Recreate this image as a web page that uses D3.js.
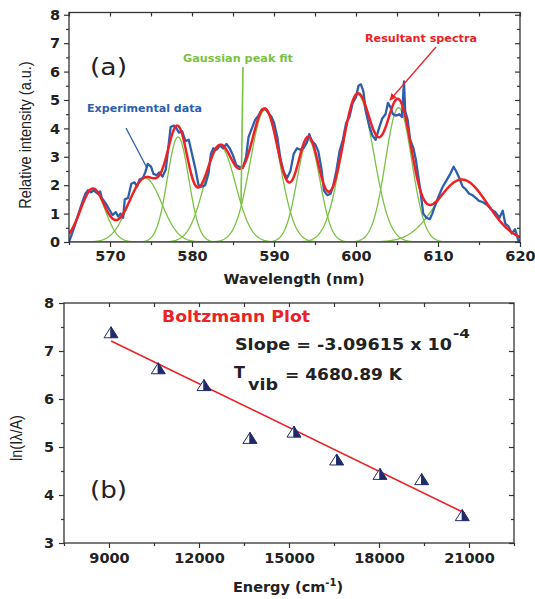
<!DOCTYPE html>
<html>
<head>
<meta charset="utf-8">
<script src="https://cdn.jsdelivr.net/npm/d3@7/dist/d3.min.js"></script>
<style>
  body { margin: 0; background: #fff; }
  svg { display: block; }
  .tick text { font-family: "DejaVu Sans", sans-serif; font-weight: bold; font-size: 14.5px; fill: #222; }
  .tick line { stroke: #333; stroke-width: 1.2; }
  .domain { display: none; }
</style>
</head>
<body>
<svg id="chart" width="535" height="599"></svg>
<script>
// [A] Datos ------------------------------------------------------------------
// (a) espectro experimental
const expNm = [565.0, 565.5, 566.0, 566.5, 567.0, 567.3, 567.7, 568.0, 568.5, 568.8,
  569.0, 569.5, 570.0, 570.3, 570.7, 571.0, 571.3, 571.6, 571.8, 572.2,
  572.6, 573.0, 573.3, 573.6, 574.0, 574.3, 574.6, 575.0, 575.3, 575.7,
  576.0, 576.4, 576.8, 577.1, 577.4, 577.8, 578.1, 578.4, 578.8, 579.2,
  579.6, 580.0, 580.4, 580.8, 581.2, 581.6, 582.0, 582.3, 582.6, 583.0,
  583.4, 583.8, 584.2, 584.6, 585.0, 585.4, 585.8, 586.2, 586.6, 586.9,
  587.3, 587.7, 588.1, 588.5, 588.9, 589.3, 589.7, 590.0, 590.4, 590.8,
  591.2, 591.6, 592.0, 592.4, 592.8, 593.2, 593.6, 594.0, 594.3, 594.6,
  595.0, 595.4, 595.8, 596.1, 596.5, 596.9, 597.2, 597.6, 598.0, 598.4,
  598.8, 599.2, 599.6, 600.0, 600.3, 600.6, 600.9, 601.2, 601.6, 602.0,
  602.4, 602.8, 603.2, 603.6, 603.9, 604.2, 604.5, 604.9, 605.3, 605.6,
  605.85, 606.0, 606.3, 606.6, 607.0, 607.3, 607.6, 607.9, 608.2, 608.6,
  609.0, 609.3, 609.6, 610.0, 610.5, 611.0, 611.5, 611.9, 612.2, 612.6,
  613.0, 613.4, 613.8, 614.2, 614.6, 615.0, 615.5, 616.0, 616.5, 617.0,
  617.5, 617.9, 618.2, 618.6, 619.0, 619.4, 619.8, 620.0];
const expInt = [0.0, 0.4, 0.85, 1.3, 1.7, 1.82, 1.75, 1.82, 1.7, 1.78,
  1.55, 1.35, 1.1, 0.95, 1.05, 0.9, 1.0, 0.85, 1.5, 1.55,
  2.05, 2.1, 1.95, 2.2, 2.25, 2.45, 2.75, 2.65, 2.4, 2.35,
  2.45, 2.3, 2.55, 3.3, 4.05, 4.1, 4.0, 3.85, 3.9, 3.55,
  3.6, 3.1, 2.6, 2.0, 1.95, 2.0, 2.4, 3.1, 3.3, 3.25,
  3.4, 3.3, 3.45, 3.3, 3.05, 2.7, 2.65, 2.6, 3.0, 3.7,
  4.0, 4.3, 4.45, 4.65, 4.7, 4.55, 4.4, 4.2, 3.7, 2.9,
  2.45, 2.25, 2.5, 3.1, 3.3, 3.25, 3.3, 3.5, 3.8, 3.55,
  3.45, 3.2, 2.55, 1.8, 1.65, 1.7, 1.95, 2.5, 3.2, 3.6,
  4.2, 4.4, 4.9, 5.1, 5.5, 5.55, 5.3, 4.6, 4.1, 3.75,
  3.6, 4.0, 4.35, 4.5, 4.9, 4.75, 4.5, 4.45, 4.5, 4.4,
  5.65, 4.6, 4.3, 3.6, 3.3, 2.9, 2.3, 1.7, 1.0, 0.85,
  0.8, 1.0, 1.25, 1.55, 1.9, 2.15, 2.4, 2.65, 2.5, 2.25,
  1.95, 1.85, 1.7, 1.65, 1.55, 1.45, 1.4, 1.3, 1.15, 1.05,
  0.85, 1.1, 0.65, 0.55, 0.3, 0.45, 0.05, 0.05];

// (a) parámetros del ajuste gaussiano (centro, altura, sigma)
const peakCenter = [567.9, 574.3, 578.3, 583.4, 588.9, 594.2, 600.2, 605.2, 612.9];
const peakHeight = [1.87, 2.25, 3.7, 3.38, 4.65, 3.6, 5.2, 4.73, 2.2];
const peakSigma = [1.5, 2.0, 1.3, 1.9, 1.8, 1.4, 1.95, 1.6, 3.15];

const waveTicks = [570, 580, 590, 600, 610, 620];
const waveMinor = [565, 575, 585, 595, 605, 615];
const intensityTicks = [0, 1, 2, 3, 4, 5, 6, 7, 8];
const intensityMinor = [0.5, 1.5, 2.5, 3.5, 4.5, 5.5, 6.5, 7.5];

// (b) gráfico de Boltzmann
const energyVals = [9067, 10643, 12167, 13700, 15167, 16590, 18033, 19423, 20777];
const lnVals = [7.39, 6.64, 6.29, 5.19, 5.32, 4.74, 4.44, 4.33, 3.58];
const fitEnergy = [9070, 20870];
const fitLn = [7.21, 3.62];

const energyTicks = [9000, 12000, 15000, 18000, 21000];
const energyMinor = [7500, 10500, 13500, 16500, 19500, 22500];
const lnTicks = [3, 4, 5, 6, 7, 8];
const lnMinor = [3.5, 4.5, 5.5, 6.5, 7.5];

// [B] Configuración ----------------------------------------------------------
const svg = d3.select("#chart");
const axisColor = "#333";
const blue = "#2d5fae";
const red = "#ec2227";
const green = "#7bc143";
const navy = "#1f2a6c";

// Dibuja marco con ejes (abajo/izq. hacia afuera, arriba/der. hacia adentro)
function drawFrame(x, y, o) {
  const [x0, x1] = x.range();
  const [y0, y1] = y.range();
  const g = svg.append("g");

  g.append("g").attr("transform", `translate(0,${y0})`)
    .call(d3.axisBottom(x).tickValues(o.xMajor).tickSize(5).tickSizeOuter(0)
      .tickPadding(o.xPad).tickFormat(d3.format("d")));
  g.append("g").attr("transform", `translate(0,${y0})`)
    .call(d3.axisBottom(x).tickValues(o.xMinor).tickSize(3).tickSizeOuter(0).tickFormat(""));
  g.append("g").attr("transform", `translate(0,${y1})`)
    .call(d3.axisTop(x).tickValues(o.xTop).tickSize(-4).tickSizeOuter(0).tickFormat(""));

  g.append("g").attr("transform", `translate(${x0},0)`)
    .call(d3.axisLeft(y).tickValues(o.yMajor).tickSize(5).tickSizeOuter(0)
      .tickPadding(o.yPad).tickFormat(d3.format("d")));
  g.append("g").attr("transform", `translate(${x0},0)`)
    .call(d3.axisLeft(y).tickValues(o.yMinor).tickSize(3).tickSizeOuter(0).tickFormat(""));
  g.append("g").attr("transform", `translate(${x1},0)`)
    .call(d3.axisRight(y).tickValues(o.yMajor).tickSize(-5).tickSizeOuter(0).tickFormat(""));
  g.append("g").attr("transform", `translate(${x1},0)`)
    .call(d3.axisRight(y).tickValues(o.yMinor).tickSize(-3).tickSizeOuter(0).tickFormat(""));

  g.append("rect")
    .attr("x", x0).attr("y", y1)
    .attr("width", x1 - x0).attr("height", y0 - y1)
    .attr("fill", "none").attr("stroke", axisColor).attr("stroke-width", 1.3);
  return g;
}

function addText(txt, x, y, o = {}) {
  return svg.append("text")
    .attr("x", x).attr("y", y)
    .attr("font-family", o.family || "DejaVu Sans")
    .attr("font-weight", o.weight || "bold")
    .attr("font-size", o.size || 14)
    .attr("fill", o.fill || "#222")
    .attr("text-anchor", o.anchor || "start")
    .attr("textLength", o.len || null)
    .attr("lengthAdjust", o.len ? "spacingAndGlyphs" : null)
    .text(txt);
}

// [C] Panel (a) --------------------------------------------------------------
const xA = d3.scaleLinear().domain([565, 620]).range([69, 520]);
const yA = d3.scaleLinear().domain([0, 8.08]).range([242, 12.5]);

svg.append("clipPath").attr("id", "clipA")
  .append("rect").attr("x", 69).attr("y", 12.5).attr("width", 451).attr("height", 229.5);

const plotA = svg.append("g").attr("clip-path", "url(#clipA)");
const grid = d3.range(565, 620.001, 0.1);
const gauss = (x, i) => peakHeight[i] * Math.exp(-((x - peakCenter[i]) ** 2) / (2 * peakSigma[i] ** 2));
const lineA = d3.line().x(d => xA(d[0])).y(d => yA(d[1])).curve(d3.curveLinear);

// picos gaussianos
peakCenter.forEach((c, i) => {
  plotA.append("path")
    .attr("d", lineA(grid.map(x => [x, gauss(x, i)])))
    .attr("fill", "none").attr("stroke", green).attr("stroke-width", 1.3);
});

// datos experimentales
plotA.append("path")
  .attr("d", lineA(expNm.map((x, i) => [x, expInt[i]])))
  .attr("fill", "none").attr("stroke", blue).attr("stroke-width", 2.3)
  .attr("stroke-linejoin", "round");

// espectro resultante (suma de picos)
plotA.append("path")
  .attr("d", d3.line().x(d => xA(d[0])).y(d => yA(d[1])).curve(d3.curveBasis)(
    grid.map(x => [x, d3.sum(peakCenter, (c, i) => gauss(x, i))])))
  .attr("fill", "none").attr("stroke", red).attr("stroke-width", 2.5);

drawFrame(xA, yA, {
  xMajor: waveTicks, xMinor: waveMinor, xTop: waveTicks.concat(waveMinor), xPad: 4,
  yMajor: intensityTicks, yMinor: intensityMinor, yPad: 4
});

// anotaciones (a)
addText("(a)", 90, 75, { weight: "normal", size: 23, len: 37 });
addText("Experimental data", 87, 112, { size: 11, fill: blue, len: 115 });
addText("Gaussian peak fit", 183, 62, { size: 11, fill: green, len: 110 });
addText("Resultant spectra", 365, 42, { size: 11, fill: red, len: 112 });

svg.append("line").attr("x1", 126).attr("y1", 128).attr("x2", 147).attr("y2", 168)
  .attr("stroke", blue).attr("stroke-width", 1.3);
svg.append("line").attr("x1", 243).attr("y1", 67).attr("x2", 241).attr("y2", 204)
  .attr("stroke", green).attr("stroke-width", 1.6);

svg.append("defs").append("marker")
  .attr("id", "arrowRed").attr("viewBox", "0 0 10 10")
  .attr("refX", 9).attr("refY", 5)
  .attr("markerWidth", 7).attr("markerHeight", 7)
  .attr("markerUnits", "userSpaceOnUse")
  .attr("orient", "auto")
  .append("path").attr("d", "M0,0 L10,5 L0,10 z").attr("fill", red);
svg.append("line").attr("x1", 436).attr("y1", 47).attr("x2", 390).attr("y2", 100)
  .attr("stroke", red).attr("stroke-width", 1.3).attr("marker-end", "url(#arrowRed)");

addText("Wavelength (nm)", 294, 284, { size: 14.5, anchor: "middle" });
svg.append("text")
  .attr("transform", "translate(31,135) rotate(-90) scale(1,1.2)")
  .attr("font-family", "Liberation Sans, Arial, sans-serif")
  .attr("font-size", 14.5).attr("fill", "#222").attr("text-anchor", "middle")
  .text("Relative intensity (a.u.)");

// [D] Panel (b) --------------------------------------------------------------
const xB = d3.scaleLinear().domain([7500, 22500]).range([64, 514]);
const yB = d3.scaleLinear().domain([3, 8]).range([543, 303]);

drawFrame(xB, yB, {
  xMajor: energyTicks, xMinor: energyMinor,
  xTop: energyTicks.concat(energyMinor.slice(1, -1)), xPad: 5,
  yMajor: lnTicks, yMinor: lnMinor, yPad: 5
});

// recta de ajuste
svg.append("path")
  .attr("d", d3.line().x(d => xB(d[0])).y(d => yB(d[1]))(fitEnergy.map((e, i) => [e, fitLn[i]])))
  .attr("stroke", red).attr("stroke-width", 1.6).attr("fill", "none");

// triángulos medio rellenos
const tri = svg.append("g");
energyVals.forEach((e, i) => {
  const cx = xB(e), cy = yB(lnVals[i]);
  const w = 7, h = 5.5;
  tri.append("path")
    .attr("d", `M${cx - w},${cy + h} L${cx},${cy - h} L${cx},${cy + h} Z`)
    .attr("fill", "#fff").attr("stroke", navy).attr("stroke-width", 1);
  tri.append("path")
    .attr("d", `M${cx},${cy - h} L${cx + w},${cy + h} L${cx},${cy + h} Z`)
    .attr("fill", navy).attr("stroke", navy).attr("stroke-width", 1);
});

// anotaciones (b)
addText("Boltzmann Plot", 162, 322, { size: 16, fill: red, len: 148 });
addText("Slope = -3.09615 x 10", 235, 350, { size: 16, len: 217 });
addText("-4", 453, 338, { size: 13, len: 17 });
addText("T", 234, 378, { size: 16 });
addText("vib", 248, 390, { size: 15, len: 30 });
addText("= 4680.89 K", 285, 380, { size: 16, len: 117 });
addText("(b)", 90, 498, { weight: "normal", size: 23, len: 37 });

const eLabel = addText("Energy (cm", 288, 592, { size: 14.5, anchor: "middle" });
eLabel.append("tspan").attr("dy", -6).attr("font-size", 10).text("-1");
eLabel.append("tspan").attr("dy", 6).text(")");

svg.append("text")
  .attr("transform", "translate(22,438) rotate(-90) scale(1,1.2)")
  .attr("font-family", "Liberation Sans, Arial, sans-serif")
  .attr("font-size", 14.5).attr("fill", "#222").attr("text-anchor", "middle")
  .text("ln(Iλ/A)");
</script>
</body>
</html>
